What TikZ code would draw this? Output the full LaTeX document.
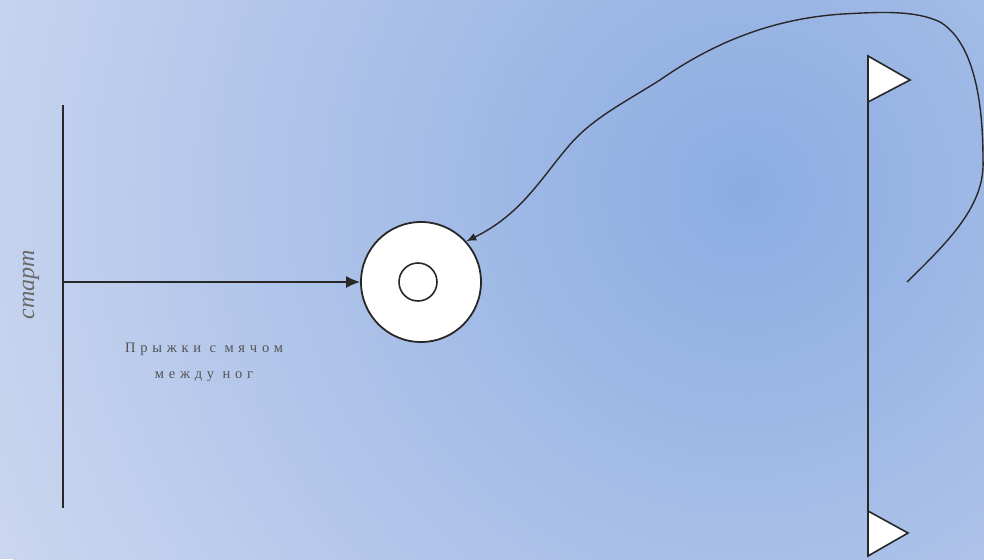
\documentclass[tikz,border=0pt]{standalone}
\usepackage{fontspec}
\setmainfont{Liberation Serif}
\usetikzlibrary{arrows.meta,positioning}
\definecolor{bgout}{RGB}{202,214,239}
\definecolor{bgin}{RGB}{140,172,226}
\definecolor{ink}{RGB}{40,40,40}
\tikzset{pole/.style={draw=ink,line width=2.2pt},
         flag/.style={draw=ink,fill=white,line width=1.6pt,line join=miter}}
\begin{document}
\begin{tikzpicture}[x=1pt,y=-1pt]
% background
\useasboundingbox (0,0) rectangle (984,559);
\fill[bgout] (0,0) rectangle (984,559);
\begin{scope}
\clip (0,0) rectangle (984,559);
\shade[inner color=bgin,outer color=bgout] (745,190) circle (820);
\end{scope}
%
\coordinate (st1) at (63,105);
\coordinate (st2) at (63,508);
\coordinate (st) at (63,282);
\draw[pole] (st1) -- (st2);
\node (lbl) [rotate=90,font=\itshape\fontsize{24}{24}\selectfont,text=ink!70] at (31,285) {старт};
%
\node (ball) [circle,draw=ink,fill=white,line width=1.8pt,minimum size=120pt] at (421,282) {};
\node (dot) [circle,draw=ink,line width=1.6pt,minimum size=38pt] at (418,282) {};
\path (st) edge[-{Latex[length=14pt,width=12pt]},draw=ink,line width=1.6pt] (ball);
%
\node (rule) [align=center,font=\fontsize{14.5}{26}\selectfont\addfontfeature{LetterSpace=33},text=ink!80] at (204,362) {Прыжки с мячом\\между ног};
%
\coordinate (fp1) at (868,55);
\coordinate (fp2) at (868,548);
\draw[pole] (fp1) -- (fp2);
\draw[flag] (868,56) -- (910,80) -- (868,102) -- cycle;
\draw[flag] (868,511) -- (908,533) -- (868,556) -- cycle;
%
\coordinate (back) at (907,282);
\draw[draw=ink,line width=1.4pt,-{Latex[length=10pt,width=8pt]}] (back)
  .. controls (950,240) and (985,205) .. (983,160)
  .. controls (983,90) and (970,40) .. (940,22)
  .. controls (915,10) and (880,12) .. (843,14)
  .. controls (780,18) and (720,38) .. (660,80)
  .. controls (620,105) and (590,120) .. (567,148)
  .. controls (540,180) and (520,215) .. (ball.42);
\end{tikzpicture}
\end{document}
